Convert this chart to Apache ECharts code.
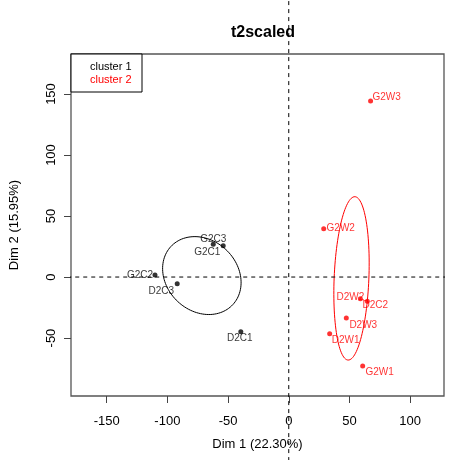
<!DOCTYPE html>
<html>
<head>
<meta charset="utf-8">
<script src="https://cdn.jsdelivr.net/npm/echarts@6/dist/echarts.min.js"></script>
<style>
  html, body { margin: 0; padding: 0; background: #fff; }
  #myChart { width: 454px; height: 460px; }
</style>
</head>
<body>
<div id="myChart"></div>
<script>
// individuals, two clusters
const c1Names = ['G2C2', 'D2C3', 'G2C1', 'G2C3', 'D2C1']
const c1Dim1 = [-110.2, -91.9, -62.2, -54.0, -39.5]
const c1Dim2 = [1.6, -5.5, 26.8, 25.7, -44.8]

const c2Names = ['G2W3', 'G2W2', 'D2W2', 'D2C2', 'D2W3', 'D2W1', 'G2W1']
const c2Dim1 = [67.4, 28.8, 59.0, 64.7, 47.4, 33.7, 60.9]
const c2Dim2 = [144.3, 39.6, -17.8, -19.9, -33.6, -46.5, -73.0]

// confidence ellipses: centre, semi axes, angle (deg)
const ellCx = [-71.6, 51.7]
const ellCy = [1.2, -1.1]
const ellA = [34.9, 67.0]
const ellB = [29.1, 14.3]
const ellAngle = [-43, 87.6]

const xTicks = [-150, -100, -50, 0, 50, 100]
const yTicks = [-50, 0, 50, 100, 150]

// where each label sits, relative to its point (px)
const labelShift = {
  G2C2: [-15, 0], D2C3: [-16, 8], G2C1: [-6, 8], G2C3: [-10, -6], D2C1: [-1, 7],
  G2W3: [16, -4], G2W2: [17, 0], D2W2: [-10, -2], D2C2: [8, 4],
  D2W3: [17, 7], D2W1: [16, 6], G2W1: [17, 6]
}

function points (names, xs, ys) {
  return names.map((n, i) => ({
    name: n,
    value: [xs[i], ys[i]],
    label: { offset: labelShift[n] }
  }))
}

function ellipseSeries (k, color) {
  return {
    type: 'custom',
    silent: true,
    data: [[ellCx[k], ellCy[k]]],
    renderItem: function (params, api) {
      const th = ellAngle[k] * Math.PI / 180
      const pts = []
      for (let i = 0; i <= 120; i++) {
        const t = i / 120 * 2 * Math.PI
        const u = ellA[k] * Math.cos(t)
        const v = ellB[k] * Math.sin(t)
        pts.push(api.coord([
          api.value(0) + u * Math.cos(th) - v * Math.sin(th),
          api.value(1) + u * Math.sin(th) + v * Math.cos(th)
        ]))
      }
      return {
        type: 'polyline',
        shape: { points: pts },
        style: { stroke: color, lineWidth: 1, fill: null }
      }
    }
  }
}

const font = 'Liberation Sans, Arial, sans-serif'
const dash = { color: '#000', width: 1, type: [4, 4] }

let myChart = echarts.init(document.getElementById('myChart'))
myChart.setOption({
  animation: false,
  backgroundColor: '#fff',
  textStyle: { fontFamily: font },
  title: {
    text: 't2scaled',
    left: 258,
    top: 20,
    textAlign: 'center',
    textStyle: { fontSize: 16, fontWeight: 'bold', color: '#000', fontFamily: font }
  },
  grid: {
    left: 71, right: 10, top: 54, bottom: 64,
    show: true, borderColor: '#555', borderWidth: 1.3,
    containLabel: false, outerBoundsMode: 'none'
  },
  xAxis: {
    type: 'value',
    min: -179.4, max: 127.9,
    name: 'Dim 1 (22.30%)',
    nameLocation: 'middle',
    nameGap: 42,
    nameTextStyle: { fontSize: 13, color: '#000' },
    splitLine: { show: false },
    axisLine: { show: false, onZero: false },
    axisTick: { show: true, length: 7, customValues: xTicks, lineStyle: { color: '#444' } },
    axisLabel: { customValues: xTicks, fontSize: 13, color: '#000', margin: 19 }
  },
  yAxis: {
    type: 'value',
    min: -97.5, max: 182.8,
    name: 'Dim 2 (15.95%)',
    nameLocation: 'middle',
    nameGap: 50,
    nameTextStyle: { fontSize: 13, color: '#000' },
    splitLine: { show: false },
    axisLine: { show: false, onZero: false },
    axisTick: { show: true, length: 7, customValues: yTicks, lineStyle: { color: '#444' } },
    axisLabel: { customValues: yTicks, fontSize: 13, color: '#000', margin: 13, rotate: 90 }
  },
  graphic: [
    {
      type: 'rect',
      shape: { x: 71, y: 54, width: 71, height: 38 },
      style: { fill: '#fff', stroke: '#000', lineWidth: 1 },
      z: 10
    },
    { type: 'text', left: 90, top: 61, z: 11, style: { text: 'cluster 1', fill: '#000', font: '11px ' + font } },
    { type: 'text', left: 90, top: 74, z: 11, style: { text: 'cluster 2', fill: 'red', font: '11px ' + font } }
  ],
  series: [
    // dashed reference lines through the origin, running past the box
    {
      type: 'line', clip: false, symbol: 'none', silent: true,
      data: [[0, -400], [0, 400]], lineStyle: dash
    },
    {
      type: 'line', clip: false, symbol: 'none', silent: true,
      data: [[-400, 0], [400, 0]], lineStyle: dash
    },
    ellipseSeries(0, '#000'),
    ellipseSeries(1, 'red'),
    {
      type: 'scatter',
      symbolSize: 5,
      itemStyle: { color: '#000' },
      label: {
        show: true, position: 'inside', formatter: '{b}',
        fontSize: 10, color: '#000', fontFamily: font
      },
      data: points(c1Names, c1Dim1, c1Dim2)
    },
    {
      type: 'scatter',
      symbolSize: 5,
      itemStyle: { color: 'red' },
      label: {
        show: true, position: 'inside', formatter: '{b}',
        fontSize: 10, color: 'red', fontFamily: font
      },
      data: points(c2Names, c2Dim1, c2Dim2)
    }
  ]
})
</script>
</body>
</html>
